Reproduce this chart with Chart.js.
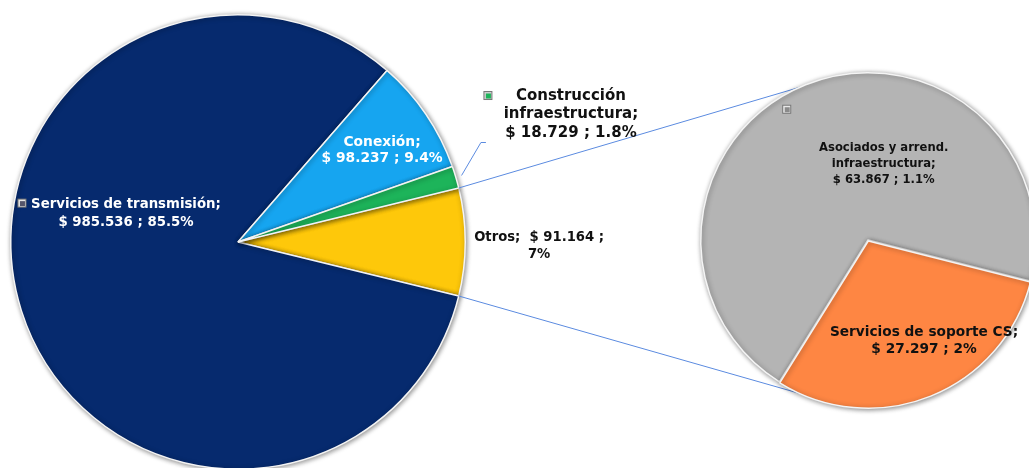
<!DOCTYPE html>
<html>
<head>
<meta charset="utf-8">
<script src="https://cdn.jsdelivr.net/npm/chart.js@4"></script>
<style>
  html, body { margin: 0; padding: 0; background: #fff; overflow: hidden; }
  #wrap { position: relative; width: 1029px; height: 468px; overflow: hidden; }
  #wrap canvas { position: absolute; left: 0; top: 0; }
  #chart2 { z-index: 2; }
  #chart1 { z-index: 1; }
</style>
</head>
<body>
<div id="wrap">
  <canvas id="chart1" width="1060" height="480"></canvas>
  <canvas id="chart2" width="1060" height="480"></canvas>
</div>
<script>
// datos del grafico principal
const mainLabels = ['Otros', 'Servicios de transmisión', 'Conexión', 'Construcción infraestructura'];
const mainValues = [91.164, 985.536, 98.237, 18.729];
const mainPct = ['7%', '85.5%', '9.4%', '1.8%'];
const mainColors = ['#fec80a', '#062a6e', '#16a5f0', '#1db45a'];

// datos del grafico secundario (desglose de "Otros")
const subLabels = ['Asociados y arrend. infraestructura', 'Servicios de soporte CS'];
const subValues = [63.867, 27.297];
const subPct = ['1.1%', '2%'];
const subColors = ['#b4b4b4', '#fe8643'];

function money(v) { return '$ ' + v.toFixed(3); }

// texto de cada etiqueta, armado desde los arrays
const mainText = [
  [mainLabels[0] + ';  ' + money(mainValues[0]) + ' ;', mainPct[0]],
  [mainLabels[1] + ';', money(mainValues[1]) + ' ; ' + mainPct[1]],
  [mainLabels[2] + ';', money(mainValues[2]) + ' ; ' + mainPct[2]],
  ['Construcción', 'infraestructura;', money(mainValues[3]) + ' ; ' + mainPct[3]]
];
const subText = [
  ['Asociados y arrend.', 'infraestructura;', money(subValues[0]) + ' ; ' + subPct[0]],
  [subLabels[1] + ';', money(subValues[1]) + ' ; ' + subPct[1]]
];

// estilo de etiquetas: posicion relativa al centro (en radios), fuente, color
const mainLabelStyle = [
  { fx: 1.325, fy: 0.018, size: 13.2, lh: 17, color: '#111' },
  { fx: -0.493, fy: -0.127, size: 13.3, lh: 18, color: '#fff', marker: { dx: -104, dy: -10, fill: '#e6e6e6', inner: '#55556a' } },
  { fx: 0.634, fy: -0.404, size: 13.8, lh: 16, color: '#fff' },
  { fx: 1.465, fy: -0.561, size: 15, lh: 18.5, color: '#111', marker: { dx: -83, dy: -19, fill: '#cfcfcf', inner: '#1db45a' },
    leader: { ex: -90, ey: 28 } }
];
const subLabelStyle = [
  { fx: 0.094, fy: -0.453, size: 11.6, lh: 16, color: '#111', marker: { dx: -97, dy: -55, fill: '#e8e8e8', inner: '#8a8a8a' } },
  { fx: 0.335, fy: 0.606, size: 13.7, lh: 17, color: '#111' }
];

const fontFamily = '"DejaVu Sans", Verdana, sans-serif';

// sombra suave bajo los sectores
const shadowPlugin = {
  id: 'softShadow',
  beforeDatasetsDraw(chart) {
    const ctx = chart.ctx;
    ctx.save();
    ctx.shadowColor = 'rgba(0,0,0,0.45)';
    ctx.shadowBlur = 5;
    ctx.shadowOffsetX = 1;
    ctx.shadowOffsetY = 1;
  },
  afterDatasetsDraw(chart) {
    chart.ctx.restore();
  }
};

// etiquetas de datos dibujadas a mano
const labelPlugin = {
  id: 'sliceLabels',
  afterDatasetsDraw(chart, args, opts) {
    const ctx = chart.ctx;
    const arcs = chart.getDatasetMeta(0).data;
    const cx = arcs[0].x, cy = arcs[0].y, r = arcs[0].outerRadius;
    opts.text.forEach(function (lines, i) {
      const st = opts.style[i];
      const x = cx + st.fx * r;
      const y = cy + st.fy * r;
      ctx.save();
      if (st.leader) {
        const a = arcs[i];
        const mid = (a.startAngle + a.endAngle) / 2;
        const sx = cx + Math.cos(mid) * (r + 6);
        const sy = cy + Math.sin(mid) * (r + 6);
        const ex = x + st.leader.ex, ey = y + st.leader.ey;
        ctx.strokeStyle = '#5b8be0';
        ctx.lineWidth = 1;
        ctx.beginPath();
        ctx.moveTo(sx, sy);
        ctx.lineTo(ex, ey);
        ctx.lineTo(ex + 5, ey);
        ctx.stroke();
      }
      if (st.marker) {
        const mx = x + st.marker.dx, my = y + st.marker.dy;
        ctx.fillStyle = '#777';
        ctx.fillRect(mx - 4.5, my - 4.5, 9, 9);
        ctx.fillStyle = st.marker.fill;
        ctx.fillRect(mx - 3.5, my - 3.5, 7, 7);
        ctx.fillStyle = st.marker.inner;
        ctx.fillRect(mx - 2, my - 2, 5, 5);
      }
      ctx.font = 'bold ' + st.size + 'px ' + fontFamily;
      ctx.fillStyle = st.color;
      ctx.textAlign = 'center';
      ctx.textBaseline = 'middle';
      const top = y - (lines.length - 1) * st.lh / 2;
      lines.forEach(function (ln, k) {
        ctx.fillText(ln, x, top + k * st.lh);
      });
      ctx.restore();
    });
  }
};

// grafico secundario primero, para que el principal pueda unir las lineas
const chart2 = new Chart(document.getElementById('chart2').getContext('2d'), {
  type: 'pie',
  data: {
    labels: subLabels,
    datasets: [{
      data: subValues,
      backgroundColor: subColors,
      borderColor: '#f4f4f4',
      borderWidth: 1.5,
      offset: [0, 4]
    }]
  },
  options: {
    responsive: false,
    animation: false,
    rotation: 212,
    layout: { padding: { left: 698, right: 22, top: 70, bottom: 70 } },
    plugins: {
      legend: { display: false },
      tooltip: { enabled: false },
      sliceLabels: { text: subText, style: subLabelStyle }
    }
  },
  plugins: [shadowPlugin, labelPlugin]
});

// lineas que unen "Otros" con el grafico secundario
const connectorPlugin = {
  id: 'connectors',
  afterDatasetsDraw(chart) {
    const ctx = chart.ctx;
    const otros = chart.getDatasetMeta(0).data[0];
    const sub = chart2.getDatasetMeta(0).data[0];
    const ends = [
      [otros.startAngle, -114 * Math.PI / 180],
      [otros.endAngle, 112 * Math.PI / 180]
    ];
    ctx.save();
    ctx.strokeStyle = '#5b8be0';
    ctx.lineWidth = 1;
    ends.forEach(function (e) {
      ctx.beginPath();
      ctx.moveTo(otros.x + Math.cos(e[0]) * otros.outerRadius, otros.y + Math.sin(e[0]) * otros.outerRadius);
      ctx.lineTo(sub.x + Math.cos(e[1]) * sub.outerRadius, sub.y + Math.sin(e[1]) * sub.outerRadius);
      ctx.stroke();
    });
    ctx.restore();
  }
};

const total = mainValues.reduce(function (a, b) { return a + b; }, 0);

const chart1 = new Chart(document.getElementById('chart1').getContext('2d'), {
  type: 'pie',
  data: {
    labels: mainLabels,
    datasets: [{
      data: mainValues,
      backgroundColor: mainColors,
      borderColor: '#f4f4f4',
      borderWidth: 1.5
    }]
  },
  options: {
    responsive: false,
    animation: false,
    // "Otros" centrado a la derecha
    rotation: 90 - (mainValues[0] / total * 360) / 2,
    layout: { padding: { left: 10, right: 594, top: 14, bottom: 10 } },
    plugins: {
      legend: { display: false },
      tooltip: { enabled: false },
      sliceLabels: { text: mainText, style: mainLabelStyle }
    }
  },
  plugins: [shadowPlugin, connectorPlugin, labelPlugin]
});
</script>
</body>
</html>
